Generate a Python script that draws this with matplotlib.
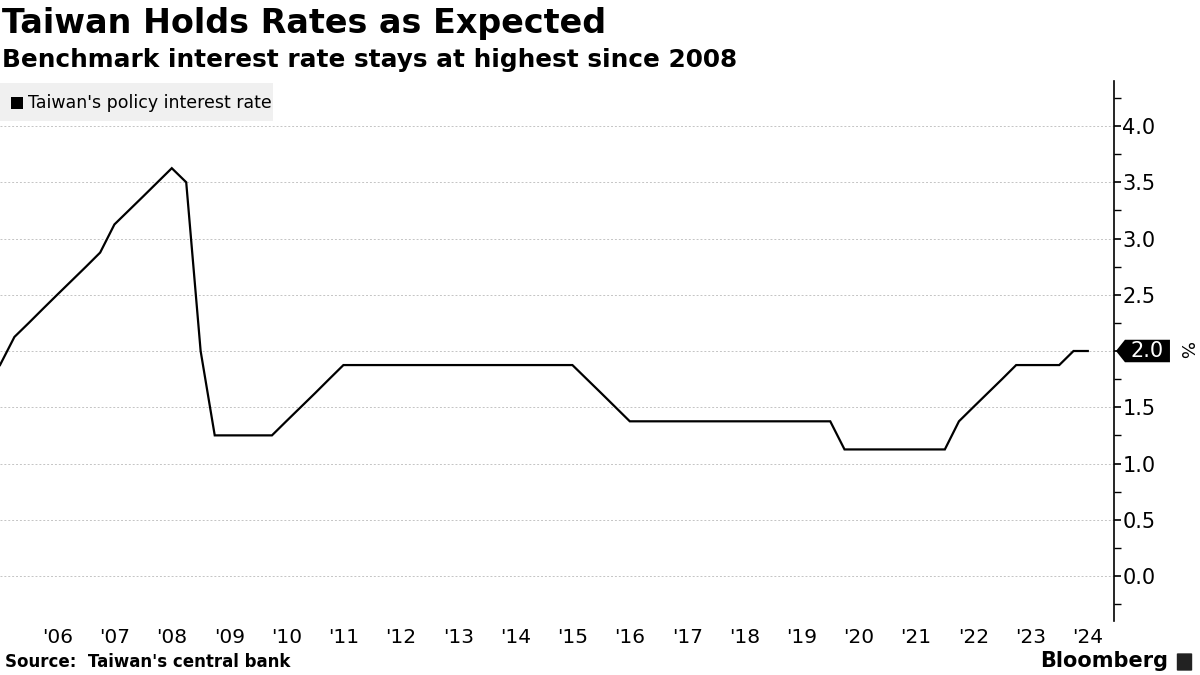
import pandas as pd
import matplotlib
matplotlib.use('Agg')
import matplotlib.pyplot as plt
import matplotlib.dates as mdates
import matplotlib.transforms as mtransforms
from matplotlib.patches import FancyBboxPatch, Rectangle, Polygon
from matplotlib.ticker import MultipleLocator, FixedLocator

# Quarter-end readings of Taiwan's policy rate (%), Q2 2005 to Q2 2024
start_quarter = '2005-06-30'
end_quarter = '2024-06-30'
rates = [
    1.875, 2.125, 2.25,                       # 2005
    2.375, 2.5, 2.625, 2.75,                  # 2006
    2.875, 3.125, 3.25, 3.375,                # 2007
    3.5, 3.625, 3.5, 2.0,                     # 2008
    1.25, 1.25, 1.25, 1.25,                   # 2009
    1.25, 1.375, 1.5, 1.625,                  # 2010
    1.75, 1.875, 1.875, 1.875,                # 2011
    1.875, 1.875, 1.875, 1.875,               # 2012
    1.875, 1.875, 1.875, 1.875,               # 2013
    1.875, 1.875, 1.875, 1.875,               # 2014
    1.875, 1.875, 1.75, 1.625,                # 2015
    1.5, 1.375, 1.375, 1.375,                 # 2016
    1.375, 1.375, 1.375, 1.375,               # 2017
    1.375, 1.375, 1.375, 1.375,               # 2018
    1.375, 1.375, 1.375, 1.375,               # 2019
    1.125, 1.125, 1.125, 1.125,               # 2020
    1.125, 1.125, 1.125, 1.125,               # 2021
    1.375, 1.5, 1.625, 1.75,                  # 2022
    1.875, 1.875, 1.875, 1.875,               # 2023
    2.0, 2.0,                                 # 2024
]
year_ticks = ['2006-07-01', '2007-07-01', '2008-07-01', '2009-07-01', '2010-07-01',
              '2011-07-01', '2012-07-01', '2013-07-01', '2014-07-01', '2015-07-01',
              '2016-07-01', '2017-07-01', '2018-07-01', '2019-07-01', '2020-07-01',
              '2021-07-01', '2022-07-01', '2023-07-01', '2024-07-01']
year_labels = ["'06", "'07", "'08", "'09", "'10", "'11", "'12", "'13", "'14", "'15",
               "'16", "'17", "'18", "'19", "'20", "'21", "'22", "'23", "'24"]
y_ticks = [0.0, 0.5, 1.0, 1.5, 2.0, 2.5, 3.0, 3.5, 4.0]
last_value = 2.0

dates = pd.date_range(start_quarter, end_quarter, freq='QE')
df = pd.DataFrame({'Rate': rates}, index=dates)

plt.rcParams['font.family'] = ['DejaVu Sans']

fig = plt.figure(figsize=(12, 6.75), dpi=100)
ax = fig.add_axes([0.0, 0.08, 0.9283, 0.80])

ax.plot(df.index, df['Rate'], color='black', linewidth=1.6, solid_joinstyle='miter')

ax.set_xlim(pd.Timestamp('2005-06-30'), pd.Timestamp('2024-12-14'))
ax.set_ylim(-0.4, 4.4)

# axes styling
for side in ['left', 'top', 'bottom']:
    ax.spines[side].set_visible(False)
ax.spines['right'].set_linewidth(1.2)

ax.yaxis.tick_right()
ax.set_yticks(y_ticks)
# the 2.0 label is replaced by the last-value tag
ax.set_yticklabels(['' if v == last_value else f'{v:.1f}' for v in y_ticks])
ax.yaxis.set_minor_locator(MultipleLocator(0.25))
ax.tick_params(axis='y', which='major', length=5, width=1.2, labelsize=15, pad=1, colors='black')
ax.tick_params(axis='y', which='minor', length=5, width=1.0)
ax.grid(axis='y', which='major', color='#c4c4c4', linestyle=(0, (2, 2)), linewidth=0.7)

tick_dates = [mdates.date2num(pd.Timestamp(d)) for d in year_ticks]
ax.xaxis.set_major_locator(FixedLocator(tick_dates))
ax.set_xticklabels(year_labels)
ax.tick_params(axis='x', length=0, labelsize=14.5, pad=5)

# last value tag: black box with a pointed left end
trans = mtransforms.blended_transform_factory(ax.transAxes, ax.transData)
w = 1114.0
tag = Polygon([(1 + 2 / w, last_value), (1 + 11 / w, last_value + 0.1),
               (1 + 56 / w, last_value + 0.1), (1 + 56 / w, last_value - 0.1),
               (1 + 11 / w, last_value - 0.1)],
              closed=True, transform=trans, facecolor='black', edgecolor='none',
              clip_on=False, zorder=5)
ax.add_patch(tag)
ax.text(1 + 33 / w, last_value, f'{last_value:.1f}', transform=trans, color='white',
        fontsize=15, ha='center', va='center', zorder=6)
ax.text(1 + 71 / w, last_value, '%', transform=trans, rotation=270,
        ha='center', va='center', fontsize=13)

# legend box
fig.patches.append(Rectangle((0.0, 1 - 121 / 675), 273 / 1200, 38 / 675,
                             transform=fig.transFigure, facecolor='#f0f0f0',
                             edgecolor='none', zorder=0))
fig.patches.append(Rectangle((11 / 1200, 1 - 109 / 675), 12 / 1200, 12 / 675,
                             transform=fig.transFigure, facecolor='black', zorder=1))
fig.text(28 / 1200, 1 - 103 / 675, "Taiwan's policy interest rate", fontsize=12.5,
         ha='left', va='center')

# titles
fig.text(0.002, 1 - 23 / 675, 'Taiwan Holds Rates as Expected', fontsize=24,
         fontweight='bold', ha='left', va='center')
fig.text(0.002, 1 - 60 / 675, 'Benchmark interest rate stays at highest since 2008',
         fontsize=17.8, fontweight='bold', ha='left', va='center')

# footer
fig.text(0.004, 1 - 662 / 675, "Source:  Taiwan's central bank", fontsize=12,
         fontweight='bold', ha='left', va='center')
fig.text(1168 / 1200, 1 - 661 / 675, 'Bloomberg', fontsize=15, fontweight='bold',
         ha='right', va='center')
fig.patches.append(FancyBboxPatch((1178 / 1200, 1 - 670 / 675), 13 / 1200, 16 / 675,
                                  boxstyle='round,pad=0.001', transform=fig.transFigure,
                                  facecolor='#222222', edgecolor='none'))

plt.savefig('out.png', dpi=100)
